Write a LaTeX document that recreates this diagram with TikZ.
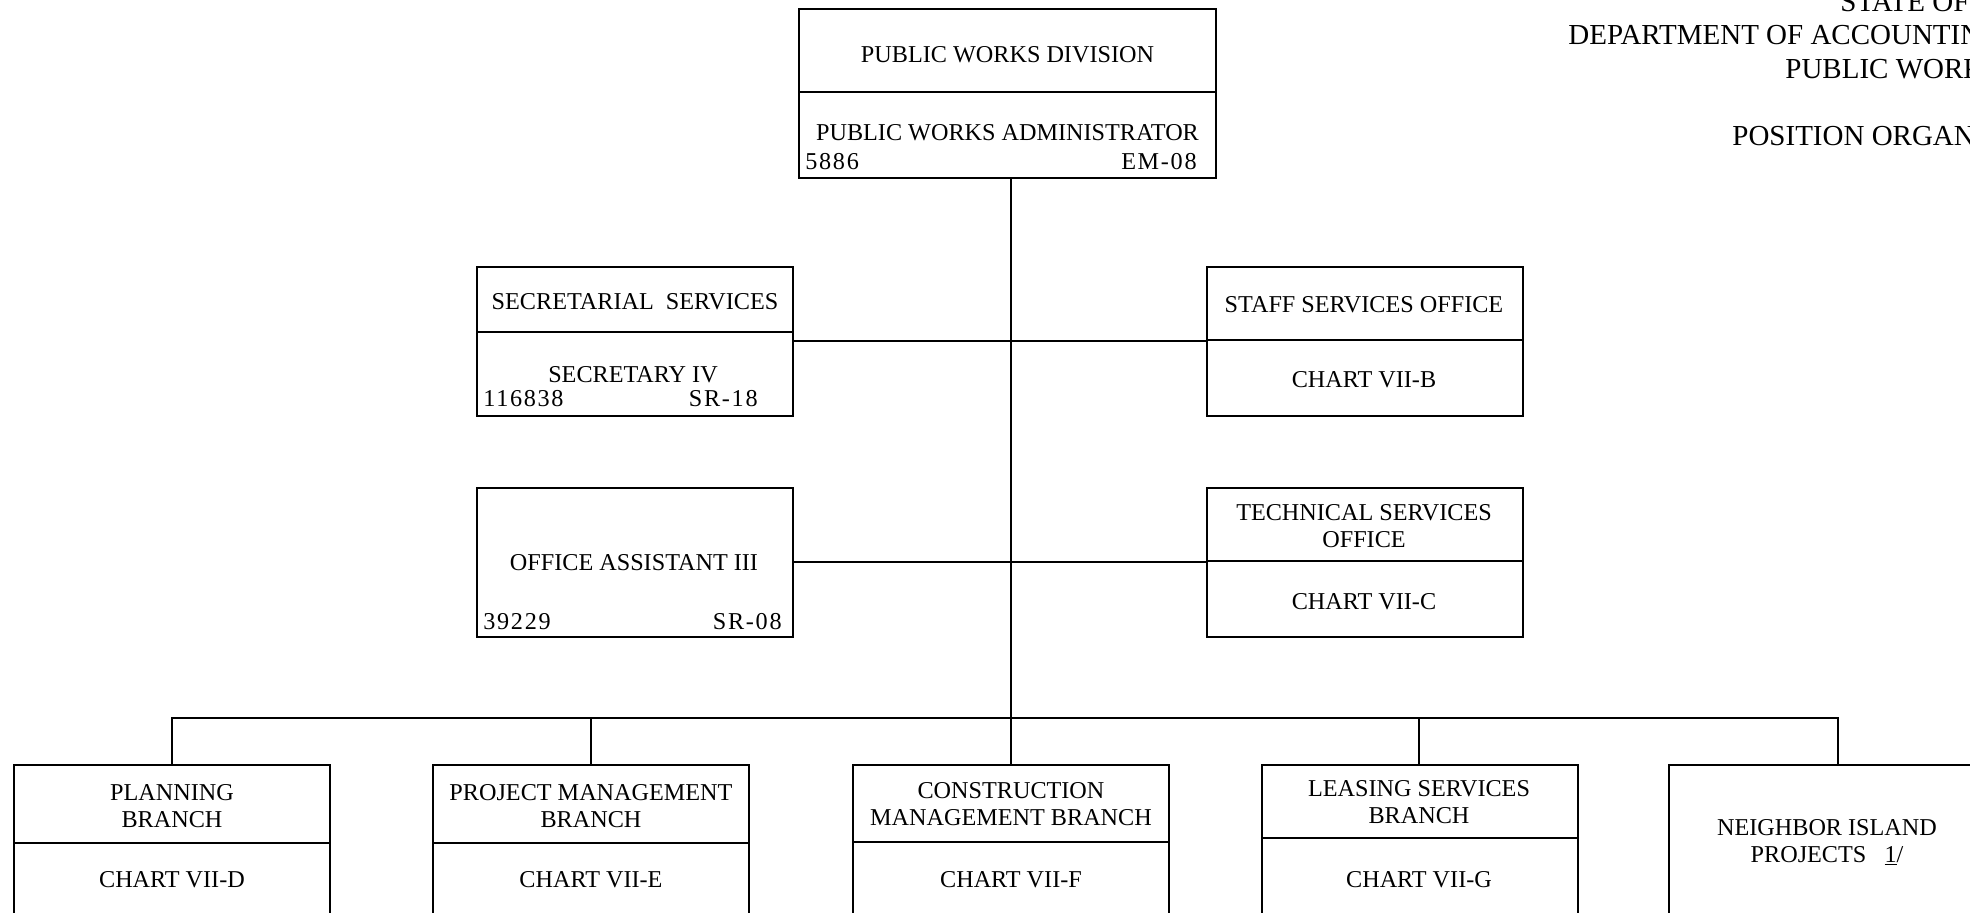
\documentclass[tikz,border=0pt]{standalone}
\usepackage{fontspec}
\setmainfont{Liberation Serif}
\newfontfamily\spacedserif[LetterSpace=7]{Liberation Serif}
\begin{document}
\begin{tikzpicture}[x=0.5pt,y=-0.5pt,
  box/.style={draw,line width=1pt,rectangle,inner sep=0pt,outer sep=0pt,minimum width=158pt,minimum height=74.5pt},
  lbl/.style={inner sep=0pt,font=\fontsize{12.1pt}{13.5pt}\selectfont,align=center},
  num/.style={inner sep=0pt,font=\spacedserif\fontsize{12.1pt}{13.5pt}\selectfont},
  ttl/.style={inner sep=0pt,anchor=base west,font=\fontsize{14.5pt}{17pt}\selectfont},
  conn/.style={line width=1pt}]
\useasboundingbox (0,0) rectangle (1970,913);
\clip (0,0) rectangle (1970,913);
% title (cut off at the page edge, as in the reference)
\node[ttl] (t1) at (1840,12) {STATE OF};
\node[ttl] (t2) at (1568,45) {DEPARTMENT OF ACCOUNTIN};
\node[ttl] (t3) at (1785,79) {PUBLIC WORK};
\node[ttl] (t4) at (1732,146) {POSITION ORGAN};
% boxes
\node[box,minimum width=208.5pt,minimum height=84.5pt] (pwd) at (1007.5,93.5) {};
\node[box] (sec) at (635,341.5) {};
\node[box] (oa) at (635,562.5) {};
\node[box] (staff) at (1365,341.5) {};
\node[box] (tech) at (1365,562.5) {};
\node[box] (plan) at (172,839.5) {};
\node[box] (proj) at (591,839.5) {};
\node[box] (cons) at (1011,839.5) {};
\node[box] (leas) at (1419.5,839.5) {};
\node[box] (nip) at (1827,839.5) {};
% dividers
\draw[conn] (pwd.west |- 0,92) -- (pwd.east |- 0,92);
\draw[conn] (sec.west |- 0,332) -- (sec.east |- 0,332);
\draw[conn] (staff.west |- 0,340) -- (staff.east |- 0,340);
\draw[conn] (tech.west |- 0,561) -- (tech.east |- 0,561);
\draw[conn] (plan.west |- 0,843) -- (plan.east |- 0,843);
\draw[conn] (proj.west |- 0,843) -- (proj.east |- 0,843);
\draw[conn] (cons.west |- 0,842) -- (cons.east |- 0,842);
\draw[conn] (leas.west |- 0,838) -- (leas.east |- 0,838);
% texts
\node[lbl] (pwd1) at (1007.5,55) {PUBLIC WORKS DIVISION};
\node[lbl] (pwd2) at (1007.5,133) {PUBLIC WORKS ADMINISTRATOR};
\node[num,anchor=west] (pwd3) at (805,162) {5886};
\node[num,anchor=east] (pwd4) at (1197,162) {EM-08};
\node[lbl] (sec1) at (635,302) {SECRETARIAL\ \ SERVICES};
\node[lbl] (sec2) at (633,375) {SECRETARY IV};
\node[num,anchor=west] (sec3) at (483,399) {116838};
\node[num,anchor=east] (sec4) at (758,399) {SR-18};
\node[lbl] (oa1) at (634,563) {OFFICE ASSISTANT III};
\node[num,anchor=west] (oa2) at (483,622) {39229};
\node[num,anchor=east] (oa3) at (782,622) {SR-08};
\node[lbl] (staff1) at (1364,305) {STAFF SERVICES OFFICE};
\node[lbl] (staff2) at (1364,380) {CHART VII-B};
\node[lbl] (tech1) at (1364,526.5) {TECHNICAL SERVICES\\OFFICE};
\node[lbl] (tech2) at (1364,602) {CHART VII-C};
\node[lbl] (plan1) at (172,806.5) {PLANNING\\BRANCH};
\node[lbl] (plan2) at (172,880) {CHART VII-D};
\node[lbl] (proj1) at (591,806) {PROJECT MANAGEMENT\\BRANCH};
\node[lbl] (proj2) at (591,880) {CHART VII-E};
\node[lbl] (cons1) at (1011,804) {CONSTRUCTION\\MANAGEMENT BRANCH};
\node[lbl] (cons2) at (1011,880) {CHART VII-F};
\node[lbl] (leas1) at (1419,802.5) {LEASING SERVICES\\BRANCH};
\node[lbl] (leas2) at (1419,880) {CHART VII-G};
\node[lbl] (nip1) at (1827,842.5) {NEIGHBOR ISLAND\\PROJECTS\ \ \ \underline{1}/};
% connectors
\coordinate (busC) at (1011,718);
\coordinate (busL) at (172,718);
\coordinate (busR) at (1838,718);
\draw[conn] (pwd.south -| busC) -- (busC);
\draw[conn] (sec.east) -- (staff.west);
\draw[conn] (oa.east) -- (tech.west);
\draw[conn] (plan.north) -- (busL) -- (busR) -- (busR |- nip.north);
\draw[conn] (proj.north) -- (proj.north |- busL);
\draw[conn] (cons.north) -- (cons.north |- busL);
\draw[conn] (leas.north -| 1419,0) -- (busL -| 1419,0);
\end{tikzpicture}
\end{document}
